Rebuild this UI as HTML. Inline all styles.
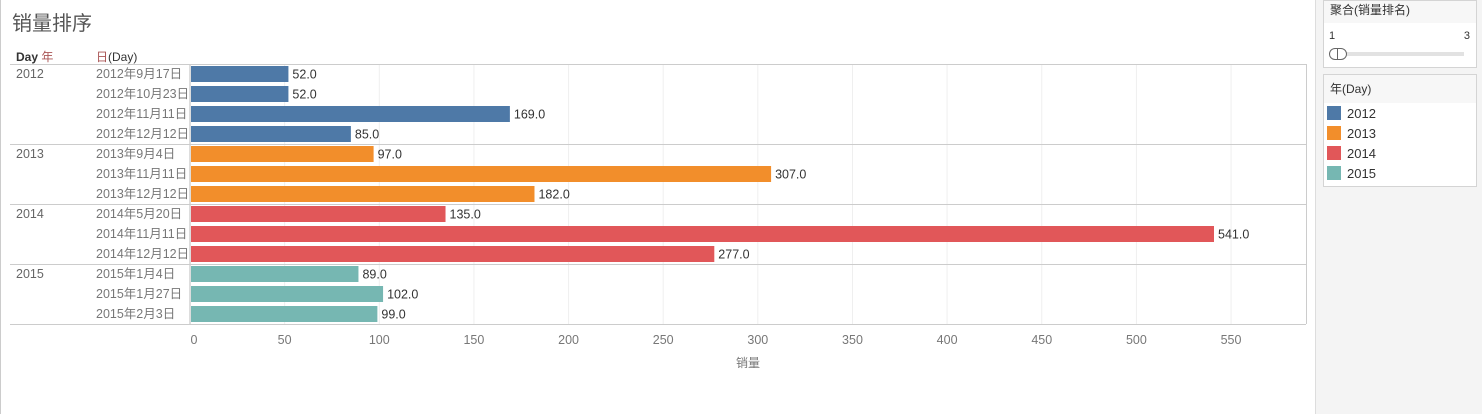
<!DOCTYPE html>
<html><head><meta charset="utf-8">
<style>
body{margin:0;width:1482px;height:414px;background:#fff;font-family:"Liberation Sans","Noto Sans CJK SC",sans-serif;position:relative;overflow:hidden}
.abs{position:absolute}
#side{left:1315px;top:0;width:167px;height:414px;background:#f4f4f4;border-left:1px solid #ddd}
.box{position:absolute;left:7px;width:152px;background:#fff;border:1px solid #d4d4d4}
.hd{background:#f7f7f7;font-size:12px;color:#333;padding:0 6px}
</style></head><body>
<div class="abs" style="left:0;top:0;width:1px;height:414px;background:#ccc"></div>
<div class="abs" style="left:12px;top:7px;font-size:20px;color:#555">销量排序</div>
<div class="abs" style="left:16px;top:48px;font-size:12px;color:#333;font-weight:bold">Day <span style="font-weight:normal;color:#a55">年</span></div>
<div class="abs" style="left:96px;top:48px;font-size:12px;color:#333"><span style="color:#a55">日</span>(Day)</div>
<svg class="abs" style="left:0;top:0" width="1315" height="414" id="chart"></svg>
<div id="side" class="abs">
 <div class="box" style="top:0;height:66px">
  <div class="hd" style="height:22px;line-height:18px">聚合(销量排名)</div>
  <div class="abs" style="left:5px;top:29px;font-size:11px;color:#333">1</div>
  <div class="abs" style="right:6px;top:29px;font-size:11px;color:#333">3</div>
  <div class="abs" style="left:6px;top:51px;width:134px;height:4px;background:#e2e2e2"></div>
  <div class="abs" style="left:5px;top:47px;width:8px;height:10px;border:1px solid #666;border-radius:6px 0 0 6px;background:#fff"></div>
  <div class="abs" style="left:13px;top:47px;width:8px;height:10px;border:1px solid #666;border-radius:0 6px 6px 0;background:#fff"></div>
 </div>
 <div class="box" style="top:74px;height:111px">
  <div class="hd" style="height:28px;line-height:28px">年(Day)</div>
  <div id="leg"></div>
 </div>
</div>
<script>
const years=['2012','2013','2014','2015'];
const colors=['#4e79a7','#f28e2b','#e15759','#76b7b2'];
const days=['2012年9月17日','2012年10月23日','2012年11月11日','2012年12月12日','2013年9月4日','2013年11月11日','2013年12月12日','2014年5月20日','2014年11月11日','2014年12月12日','2015年1月4日','2015年1月27日','2015年2月3日'];
const dayYear=[0,0,0,0,1,1,1,2,2,2,3,3,3];
const sales=[52,52,169,85,97,307,182,135,541,277,89,102,99];
const ticks=[0,50,100,150,200,250,300,350,400,450,500,550];
const svg=document.getElementById('chart');const NS='http://www.w3.org/2000/svg';
const x0=190,x1=1306,top0=64,rowH=20,k=(1214-190)/541;
const X=v=>x0+v*k, Y=i=>top0+i*rowH;
function el(t,a,name,txt){const e=document.createElementNS(NS,t);for(const p in a)e.setAttribute(p,a[p]);


if(txt!=null)e.textContent=txt;svg.appendChild(e);return e;}
ticks.forEach(t=>{el('line',{x1:X(t),x2:X(t),y1:top0,y2:top0+days.length*rowH,stroke:t?'#efefef':'#bbb','stroke-width':1},'gridline');
el('text',{x:X(t)+(t?0:4),y:344,'font-size':12.5,fill:'#777','text-anchor':'middle'},'x-tick-label',t);});
el('line',{x1:10,x2:x1,y1:top0+.5,y2:top0+.5,stroke:'#ccc'},'header-line');
el('line',{x1:x1+.5,x2:x1+.5,y1:top0,y2:top0+days.length*rowH,stroke:'#ccc'},'pane-border');
el('line',{x1:10,x2:x1,y1:top0+days.length*rowH+.5,y2:top0+days.length*rowH+.5,stroke:'#ccc'},'bottom-line');
let prev=-1;
days.forEach((d,i)=>{const y=Y(i),yr=dayYear[i];
if(yr!==prev){if(i>0)el('line',{x1:10,x2:x1,y1:y+.5,y2:y+.5,stroke:'#ccc'},'year-separator');
el('text',{x:16,y:y+14,'font-size':12.5,fill:'#666'},'year-label',years[yr]);prev=yr;}
el('text',{x:96,y:y+14,'font-size':12.5,fill:'#777'},'day-label',d);
el('rect',{x:x0+1,y:y+2,width:X(sales[i])-x0-1,height:16,fill:colors[yr]},'bar');
el('text',{x:X(sales[i])+4,y:y+14.5,'font-size':12.5,fill:'#333'},'bar-value',sales[i].toFixed(1));});
el('text',{x:748,y:367,'font-size':12,fill:'#777','text-anchor':'middle'},'x-axis-title','销量');
const leg=document.getElementById('leg');
years.forEach((y,i)=>{const d=document.createElement('div');


d.style.cssText='height:20px;display:flex;align-items:center;font-size:13px;color:#333';
d.innerHTML='<span style="display:inline-block;width:14px;height:14px;margin:0 6px 0 3px;background:'+colors[i]+'"></span>'+y;leg.appendChild(d);});
</script>
</body></html>
